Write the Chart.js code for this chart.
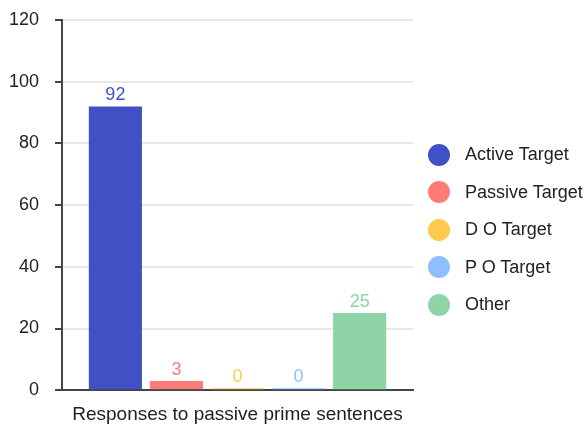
<!DOCTYPE html>
<html>
<head>
<meta charset="utf-8">
<script src="https://cdn.jsdelivr.net/npm/chart.js@4"></script>
<style>
    body { margin: 0; background: #fff; font-family: Arial, "Liberation Sans", sans-serif; }
    #wrap { position: relative; width: 587px; height: 425px; }
    #chartLegend { position: absolute; left: 428px; top: 136px; }
    .legend-item { display: flex; align-items: center; height: 37.5px; font-size: 18px; color: #222; white-space: nowrap; }
    .legend-color { width: 22px; height: 22px; border-radius: 50%; margin-right: 15px; }
</style>
</head>
<body>
<div id="wrap">
    <canvas id="barChart" width="587" height="425"></canvas>
    <div id="chartLegend"></div>
</div>
<script>
// Chart data
const categories = ['Responses to passive prime sentences'];
const seriesNames = ['Active Target', 'Passive Target', 'D O Target', 'P O Target', 'Other'];
const seriesValues = [[92], [3], [0], [0], [25]];
const seriesColors = ['#3f51c5', '#ff7b77', '#ffc94f', '#8fbfff', '#8fd4a7'];
const yTicks = [0, 20, 40, 60, 80, 100, 120];

const fontFamily = 'Arial, "Liberation Sans", sans-serif';

// Value labels above each bar
const valueLabels = {
    id: 'valueLabels',
    afterDatasetsDraw(chart) {
        const ctx = chart.ctx;
        ctx.save();
        ctx.font = '18px ' + fontFamily;
        ctx.textAlign = 'center';
        ctx.textBaseline = 'alphabetic';
        chart.data.datasets.forEach((ds, i) => {
            chart.getDatasetMeta(i).data.forEach((bar, j) => {
                ctx.fillStyle = ds.backgroundColor;
                ctx.fillText(ds.data[j], bar.x, bar.y - 6);
            });
        });
        ctx.restore();
    }
};

const datasets = seriesNames.map((name, i) => ({
    label: name,
    data: seriesValues[i],
    backgroundColor: seriesColors[i],
    categoryPercentage: 0.87,
    barPercentage: 0.87,
    minBarLength: 2
}));

const chart = new Chart(document.getElementById('barChart').getContext('2d'), {
    type: 'bar',
    data: { labels: categories, datasets: datasets },
    options: {
        responsive: false,
        animation: false,
        layout: { padding: { left: -7, right: 174, top: 20, bottom: -14 } },
        plugins: {
            legend: { display: false },
            tooltip: { enabled: false }
        },
        scales: {
            x: {
                grid: { display: false, drawTicks: false },
                border: { color: '#444', width: 2 },
                ticks: { color: '#222', padding: 13, font: { size: 19, family: fontFamily } }
            },
            y: {
                min: yTicks[0],
                max: yTicks[yTicks.length - 1],
                afterBuildTicks: axis => { axis.ticks = yTicks.map(v => ({ value: v })); },
                afterFit: axis => { axis.paddingTop = 0; },
                grid: {
                    color: c => c.tick && c.tick.value === 0 ? '#444' : '#e8e8e8',
                    lineWidth: 2,
                    tickColor: '#444',
                    tickLength: 7
                },
                border: { color: '#444', width: 2 },
                ticks: { color: '#222', padding: 16, font: { size: 18, family: fontFamily } }
            }
        }
    },
    plugins: [valueLabels]
});

// HTML legend
document.getElementById('chartLegend').innerHTML = datasets.map(ds => `
    <div class="legend-item">
        <div class="legend-color" style="background-color: ${ds.backgroundColor};"></div>
        ${ds.label}
    </div>`).join('');
</script>
</body>
</html>
